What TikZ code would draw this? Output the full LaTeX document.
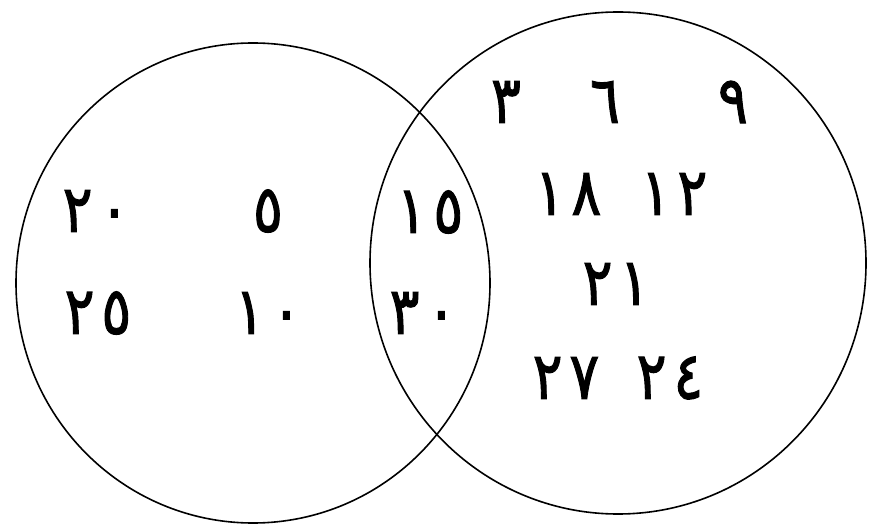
\documentclass[tikz,border=0pt]{standalone}
\usepackage{fontspec}
\newfontfamily\arabicfont[Script=Arabic,FakeBold=1.6,LetterSpace=12]{DejaVu Sans}
\begin{document}
\begin{tikzpicture}[x=1pt,y=-1pt,
  setline/.style={line width=1.6pt,draw=black},
  num/.style={font=\arabicfont\fontsize{66}{66}\selectfont,inner sep=0pt,anchor=center,xscale=0.85,transform shape}]
\useasboundingbox (0,0) rectangle (869,526);
\draw[setline] (253,283) ellipse [x radius=237,y radius=240];
\draw[setline] (618,263) ellipse [x radius=248,y radius=251];
% left only
\node[num] (a20) at (96,211) {٢٠};
\node[num] (a5) at (268,211) {٥};
\node[num] (a25) at (98,313) {٢٥};
\node[num] (a10) at (268,313) {١٠};
% intersection
\node[num] (b15) at (430,212) {١٥};
\node[num] (b30) at (423,313) {٣٠};
% right only
\node[num] (c3) at (506,102) {٣};
\node[num] (c6) at (605,102) {٦};
\node[num] (c9) at (733,102) {٩};
\node[num] (c18) at (568,194) {١٨};
\node[num] (c12) at (674,194) {١٢};
\node[num] (c21) at (616,284) {٢١};
\node[num] (c27) at (566,378) {٢٧};
\node[num] (c24) at (670,378) {٢٤};
\end{tikzpicture}
\end{document}
